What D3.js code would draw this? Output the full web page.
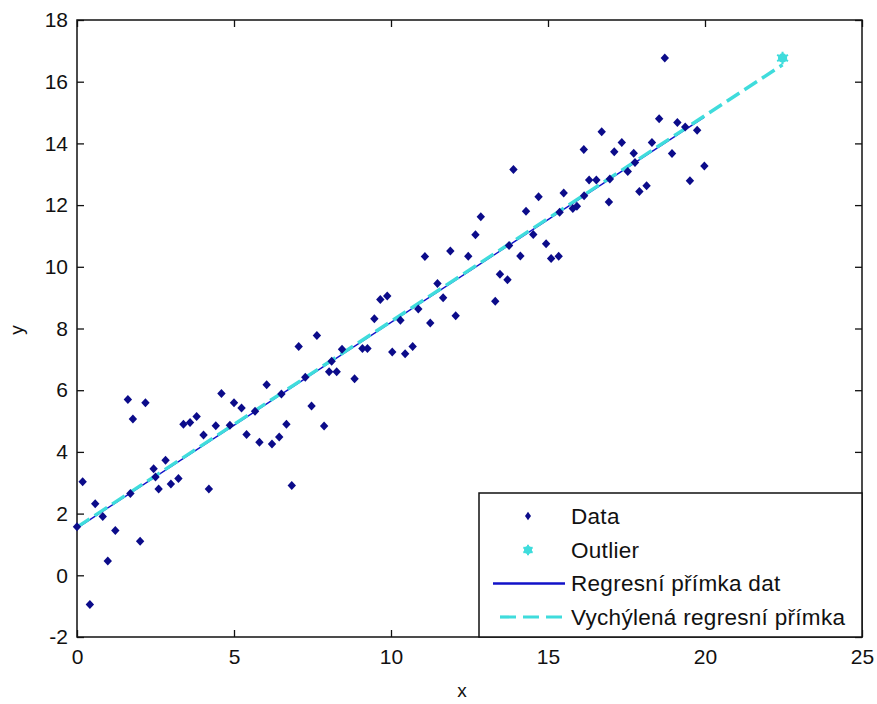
<!DOCTYPE html>
<html>
<head>
<meta charset="utf-8">
<script src="https://cdn.jsdelivr.net/npm/d3@7"></script>
<style>
  html, body { margin: 0; padding: 0; background: #ffffff; }
  svg { display: block; }
  text { font-family: "Liberation Sans", Arial, sans-serif; fill: #111; }
</style>
</head>
<body>
<svg id="chart" width="877" height="704"></svg>
<script>
// Scatter samples
const dataX = [0.00, 0.18, 0.41, 0.58, 0.82, 0.98, 1.22, 1.62, 1.70, 1.78, 2.01, 2.18, 2.44, 2.50, 2.60,
  2.82, 2.99, 3.23, 3.39, 3.60, 3.81, 4.03, 4.20, 4.42, 4.60, 4.87, 5.00, 5.24, 5.40, 5.67,
  5.81, 6.04, 6.21, 6.44, 6.51, 6.67, 6.84, 7.06, 7.27, 7.47, 7.64, 7.87, 8.03, 8.11, 8.27,
  8.44, 8.84, 9.09, 9.25, 9.47, 9.66, 9.88, 10.04, 10.30, 10.45, 10.69, 10.87, 11.08, 11.25,
  11.48, 11.66, 11.89, 12.06, 12.46, 12.69, 12.86, 13.32, 13.47, 13.71, 13.76, 13.90, 14.12,
  14.30, 14.53, 14.70, 14.94, 15.10, 15.34, 15.37, 15.50, 15.79, 15.92, 16.14, 16.15, 16.31,
  16.54, 16.71, 16.94, 16.97, 17.11, 17.35, 17.54, 17.73, 17.77, 17.91, 18.14, 18.31, 18.54,
  18.72, 18.95, 19.12, 19.37, 19.52, 19.75, 19.98];
const dataY = [1.57, 3.03, -0.95, 2.32, 1.91, 0.46, 1.45, 5.70, 2.65, 5.07, 1.10, 5.59, 3.45, 3.19, 2.80,
  3.73, 2.96, 3.14, 4.90, 4.95, 5.15, 4.55, 2.80, 4.85, 5.89, 4.86, 5.59, 5.42, 4.56, 5.32,
  4.31, 6.18, 4.26, 4.48, 5.88, 4.90, 2.91, 7.42, 6.42, 5.49, 7.77, 4.84, 6.60, 6.94, 6.60,
  7.33, 6.37, 7.35, 7.35, 8.32, 8.94, 9.05, 7.24, 8.27, 7.18, 7.42, 8.63, 10.33, 8.18,
  9.46, 9.00, 10.51, 8.41, 10.34, 11.04, 11.62, 8.88, 9.76, 9.58, 10.69, 13.15, 10.35,
  11.80, 11.05, 12.27, 10.75, 10.27, 10.34, 11.77, 12.39, 11.89, 11.96, 13.80, 12.30, 12.81,
  12.81, 14.38, 12.10, 12.85, 13.73, 14.03, 13.09, 13.68, 13.38, 12.44, 12.63, 14.03, 14.80,
  16.77, 13.67, 14.68, 14.53, 12.79, 14.43, 13.27];

// Added outlier
const outlierX = [22.47];
const outlierY = [16.77];

// Fitted lines (end points)
const fitX = [0, 19.98];
const fitY = [1.53, 14.85];
const biasedFitX = [0, 22.47];
const biasedFitY = [1.56, 16.55];

// Axis ticks
const xTicks = [0, 5, 10, 15, 20, 25];
const yTicks = [-2, 0, 2, 4, 6, 8, 10, 12, 14, 16, 18];

// Legend labels
const legendLabels = ["Data", "Outlier", "Regresní přímka dat", "Vychýlená regresní přímka"];

const colDots = "#0b0b8a";
const colFit = "#1212c8";
const colBiased = "#3fdcdc";

const mLeft = 77, mRight = 862, mTop = 20, mBottom = 637;
const svg = d3.select("#chart");

const x = d3.scaleLinear().domain([0, 25]).range([mLeft, mRight]);
const y = d3.scaleLinear().domain([-2, 18]).range([mBottom, mTop]);

const tickFont = 21;
const plainNum = d => String(d);

// Axes (inward ticks on all four sides)
const gB = svg.append("g").attr("transform", `translate(0,${mBottom})`)
  .call(d3.axisBottom(x).tickValues(xTicks).tickFormat(plainNum).tickSize(-7).tickPadding(12));
const gT = svg.append("g").attr("transform", `translate(0,${mTop})`)
  .call(d3.axisTop(x).tickValues(xTicks).tickFormat("").tickSize(-7));
const gL = svg.append("g").attr("transform", `translate(${mLeft},0)`)
  .call(d3.axisLeft(y).tickValues(yTicks).tickFormat(plainNum).tickSize(-7).tickPadding(9));
const gR = svg.append("g").attr("transform", `translate(${mRight},0)`)
  .call(d3.axisRight(y).tickValues(yTicks).tickFormat("").tickSize(-7));

[gB, gT, gL, gR].forEach(g => {
  g.select(".domain").remove();
  g.selectAll("line").attr("stroke", "#111").attr("stroke-width", 1.3);
  g.selectAll("text").style("font-size", tickFont + "px")
    .style("font-family", "'Liberation Sans', Arial, sans-serif").attr("fill", "#222");
});

// Box
svg.append("rect")
  .attr("x", mLeft).attr("y", mTop)
  .attr("width", mRight - mLeft).attr("height", mBottom - mTop)
  .attr("fill", "none").attr("stroke", "#111").attr("stroke-width", 1.5);

// Axis titles
svg.append("text").attr("x", 462).attr("y", 697).attr("text-anchor", "middle")
  .style("font-size", "19px").attr("fill", "#333").text("x");
svg.append("text").attr("transform", "translate(23,330) rotate(-90)").attr("text-anchor", "middle")
  .style("font-size", "19px").attr("fill", "#333").text("y");

const plot = svg.append("g");

// Fitted line of the data
const line = d3.line().x(d => x(d[0])).y(d => y(d[1]));
plot.append("path")
  .datum(d3.zip(fitX, fitY))
  .attr("d", line)
  .attr("fill", "none").attr("stroke", colFit).attr("stroke-width", 1.4);

// Fitted line including the outlier
plot.append("path")
  .datum(d3.zip(biasedFitX, biasedFitY))
  .attr("d", line)
  .attr("fill", "none").attr("stroke", colBiased).attr("stroke-width", 3.4)
  .attr("stroke-dasharray", "15,6");

// Data points (diamonds)
const diamond = (cx, cy, w, h) => `M${cx},${cy - h}L${cx + w},${cy}L${cx},${cy + h}L${cx - w},${cy}Z`;
plot.selectAll("path.dot")
  .data(d3.zip(dataX, dataY))
  .join("path")
  .attr("class", "dot")
  .attr("d", d => diamond(x(d[0]), y(d[1]), 4.2, 4.5))
  .attr("fill", colDots);

// Outlier marker
const outG = plot.selectAll("g.outlier").data(d3.zip(outlierX, outlierY)).join("g")
  .attr("class", "outlier")
  .attr("transform", d => `translate(${x(d[0])},${y(d[1])})`);
outG.append("circle").attr("r", 4.6).attr("fill", colBiased);
outG.append("path").attr("d", d3.symbol(d3.symbolAsterisk, 110)())
  .attr("stroke", colBiased).attr("stroke-width", 2).attr("fill", "none");

// Legend
const lgX = 479, lgY = 493;
const legend = svg.append("g");
legend.append("rect")
  .attr("x", lgX).attr("y", lgY).attr("width", mRight - lgX).attr("height", mBottom - lgY)
  .attr("fill", "#fff").attr("stroke", "#111").attr("stroke-width", 1.5);

const rowY = [516, 550, 583.5, 617];
legend.selectAll("text.lg")
  .data(legendLabels)
  .join("text")
  .attr("class", "lg")
  .attr("x", 571).attr("y", (d, i) => rowY[i]).attr("dy", "0.35em")
  .style("font-size", "22.5px").style("letter-spacing", "0.3px")
  .attr("fill", "#111")
  .text(d => d);

legend.append("path").attr("d", diamond(528, rowY[0], 3, 4.2)).attr("fill", colDots);
const lgOut = legend.append("g").attr("transform", `translate(528,${rowY[1]})`);
lgOut.append("circle").attr("r", 4).attr("fill", colBiased);
lgOut.append("path").attr("d", d3.symbol(d3.symbolAsterisk, 80)())
  .attr("stroke", colBiased).attr("stroke-width", 2).attr("fill", "none");
legend.append("line").attr("x1", 493).attr("x2", 565).attr("y1", rowY[2]).attr("y2", rowY[2])
  .attr("stroke", colFit).attr("stroke-width", 2.4);
legend.append("line").attr("x1", 500).attr("x2", 565).attr("y1", rowY[3]).attr("y2", rowY[3])
  .attr("stroke", colBiased).attr("stroke-width", 3.2).attr("stroke-dasharray", "16,7");
</script>
</body>
</html>
